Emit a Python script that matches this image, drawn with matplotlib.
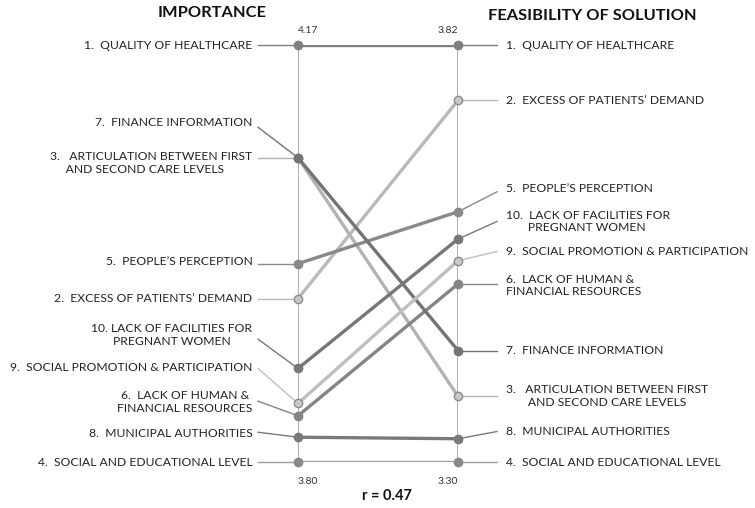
import matplotlib.pyplot as plt

# scales of the two vertical axes
imp_min, imp_max = 3.80, 4.17
fea_min, fea_max = 3.30, 3.82

items = ["1", "2", "3", "4", "5", "6", "7", "8", "9", "10"]
importance = [4.17, 3.945, 4.07, 3.80, 3.976, 3.841, 4.07, 3.822, 3.852, 3.883]
feasibility = [3.82, 3.751, 3.382, 3.30, 3.612, 3.522, 3.439, 3.329, 3.551, 3.578]

left_labels = {
    "1": "1.  QUALITY OF HEALTHCARE",
    "2": "2.  EXCESS OF PATIENTS\u2019 DEMAND",
    "3": "3.   ARTICULATION BETWEEN FIRST\n     AND SECOND CARE LEVELS",
    "4": "4.  SOCIAL AND EDUCATIONAL LEVEL",
    "5": "5.  PEOPLE\u2019S PERCEPTION",
    "6": "6.  LACK OF HUMAN & \nFINANCIAL RESOURCES",
    "7": "7.  FINANCE INFORMATION",
    "8": "8.  MUNICIPAL AUTHORITIES",
    "9": "9.  SOCIAL PROMOTION & PARTICIPATION",
    "10": "10. LACK OF FACILITIES FOR\nPREGNANT WOMEN",
}
right_labels = {
    "1": "1.  QUALITY OF HEALTHCARE",
    "2": "2.  EXCESS OF PATIENTS\u2019 DEMAND",
    "3": "3.   ARTICULATION BETWEEN FIRST\n       AND SECOND CARE LEVELS",
    "4": "4.  SOCIAL AND EDUCATIONAL LEVEL",
    "5": "5.  PEOPLE\u2019S PERCEPTION",
    "6": "6.  LACK OF HUMAN &\nFINANCIAL RESOURCES",
    "7": "7.  FINANCE INFORMATION",
    "8": "8.  MUNICIPAL AUTHORITIES",
    "9": "9.  SOCIAL PROMOTION & PARTICIPATION",
    "10": "10.  LACK OF FACILITIES FOR\n       PREGNANT WOMEN",
}

# label layout: (text y, connector y) in each axis' own units
left_pos = {"1": (4.17, 4.17), "2": (3.945, 3.945), "3": (4.065, 4.07), "4": (3.80, 3.80),
            "5": (3.978, 3.976), "6": (3.853, 3.854), "7": (4.101, 4.097), "8": (3.8255, 3.8264),
            "9": (3.884, 3.883), "10": (3.9125, 3.909)}
right_pos = {"1": (3.82, 3.82), "2": (3.751, 3.751), "3": (3.382, 3.382), "4": (3.30, 3.30),
             "5": (3.641, 3.637), "6": (3.52, 3.522), "7": (3.439, 3.439), "8": (3.338, 3.338),
             "9": (3.562, 3.5625), "10": (3.600, 3.600)}

dark = {"1": "#7f7f7f", "5": "#898989", "6": "#858585", "7": "#747474", "8": "#7a7a7a", "10": "#777777",
        "4": "#a0a0a0"}
light = {"2": "#b9b9b9", "3": "#b3b3b3", "9": "#bfbfbf"}


def to_left(v):
    # map the feasibility scale onto the importance scale
    return imp_min + (v - fea_min) / (fea_max - fea_min) * (imp_max - imp_min)


plt.rcParams['font.family'] = ['Lato', 'DejaVu Sans']
fig = plt.figure(figsize=(7.55, 5.08), dpi=100)
ax = fig.add_axes([298 / 755, 46 / 508, 160 / 755, 417 / 508])
ax.set_xlim(0, 1)
ax.set_ylim(imp_min, imp_max)
ax.axis('off')

ax.plot([0, 0], [imp_min, imp_max], color='#a8a8a8', lw=1.3, zorder=1)
ax.plot([1, 1], [imp_min, imp_max], color='#a8a8a8', lw=1.3, zorder=1)

fs = 8.7
for k, a, b in zip(items, importance, feasibility):
    if k in light:
        c = light[k]
        mfc, mec = '#c8c8c8', '#8c8c8c'
    else:
        c = dark[k]
        mfc = mec = '#8a8a8a' if k == "4" else c
    ax.plot([0, 1], [a, to_left(b)], color=c, lw=2.4, solid_capstyle='butt', zorder=2)
    ax.plot([0, 1], [a, to_left(b)], ls='none', marker='o', ms=6, mfc=mfc, mec=mec, mew=1,
            zorder=3, clip_on=False)

    ty, cy = left_pos[k]
    ax.plot([-0.25, 0], [cy, a], color=c, lw=1.0, zorder=1, clip_on=False)
    ax.text(-0.285, ty, left_labels[k], ha='right', va='center', fontsize=fs, color='#222222',
            multialignment='center' if k == "10" else ('left' if k == "3" else 'right'))

    ty, cy = right_pos[k]
    ax.plot([1, 1.244], [to_left(b), to_left(cy)], color=c, lw=1.0, zorder=1, clip_on=False)
    ax.text(1.3, to_left(ty), right_labels[k], ha='left', va='center', fontsize=fs, color='#222222')

ax.text(0, imp_max + 0.009, "4.17", ha='left', va='bottom', fontsize=7.5, color='#333333')
ax.text(1, imp_max + 0.009, "3.82", ha='right', va='bottom', fontsize=7.5, color='#333333')
ax.text(0, imp_min - 0.013, "3.80", ha='left', va='top', fontsize=7.5, color='#333333')
ax.text(1, imp_min - 0.013, "3.30", ha='right', va='top', fontsize=7.5, color='#333333')
fig.text(387 / 755, 1 - 496 / 508, "r = 0.47", ha='center', va='center', fontsize=10.5,
         fontweight='bold', color='#111111')

fig.text(212 / 755, 1 - 13 / 508, "IMPORTANCE", ha='center', va='center', fontsize=11.8,
         fontweight='bold', color='#111111')
fig.text(592 / 755, 1 - 16 / 508, "FEASIBILITY OF SOLUTION", ha='center', va='center',
         fontsize=11.8, fontweight='bold', color='#111111')

fig.savefig('out.png', dpi=100)
